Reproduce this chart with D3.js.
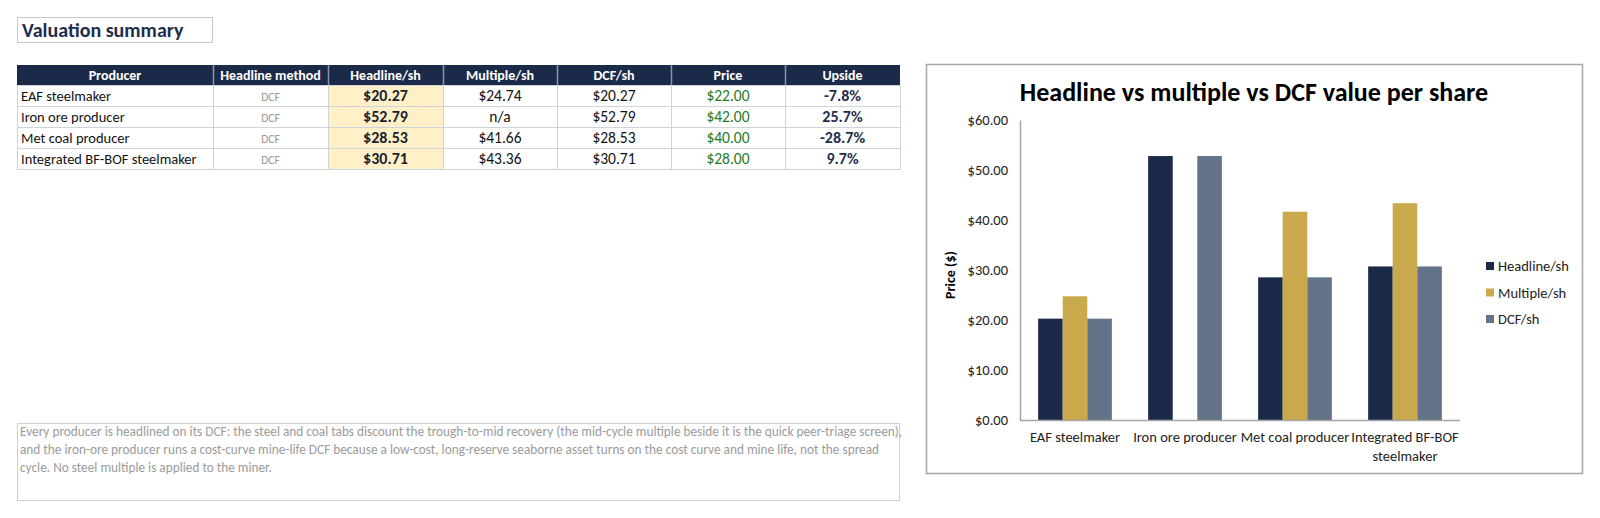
<!DOCTYPE html>
<html>
<head>
<meta charset="utf-8">
<script src="https://cdn.jsdelivr.net/npm/d3@7"></script>
<style>
  html, body { margin: 0; padding: 0; background: #fff; }
  svg { display: block; font-family: Carlito, Calibri, Lato, sans-serif; }
</style>
</head>
<body>
<svg id="sheet"></svg>
<script>
// Table / chart data
const producers = ['EAF steelmaker', 'Iron ore producer', 'Met coal producer', 'Integrated BF-BOF steelmaker'];
const methods = ['DCF', 'DCF', 'DCF', 'DCF'];
const headlineSh = [20.27, 52.79, 28.53, 30.71];
const multipleSh = [24.74, null, 41.66, 43.36];
const dcfSh = [20.27, 52.79, 28.53, 30.71];
const prices = [22.00, 42.00, 40.00, 28.00];
const upside = ['-7.8%', '25.7%', '-28.7%', '9.7%'];
const headers = ['Producer', 'Headline method', 'Headline/sh', 'Multiple/sh', 'DCF/sh', 'Price', 'Upside'];
const seriesNames = ['Headline/sh', 'Multiple/sh', 'DCF/sh'];
const yTicks = [0, 10, 20, 30, 40, 50, 60];
const noteText = 'Every producer is headlined on its DCF: the steel and coal tabs discount the trough-to-mid recovery (the mid-cycle multiple beside it is the quick peer-triage screen), and the iron-ore producer runs a cost-curve mine-life DCF because a low-cost, long-reserve seaborne asset turns on the cost curve and mine life, not the spread cycle. No steel multiple is applied to the miner.';

const navy = '#1c2a4a';
const gold = '#c9a94c';
const slate = '#637389';
const money = d => d == null ? 'n/a' : '$' + d.toFixed(2);
const fontStack = 'Carlito, Calibri, Lato, sans-serif';

const svg = d3.select('#sheet').attr('width', 1600).attr('height', 518);

// Title box
svg.append('rect').attr('x', 17.5).attr('y', 17.5).attr('width', 195).attr('height', 25)
  .attr('fill', '#fff').attr('stroke', '#c8c8c8');
svg.append('text').attr('x', 22).attr('y', 37)
  .style('font-size', '20px').style('font-weight', 'bold').attr('fill', '#1f2d4d')
  .text('Valuation summary');

// ---- Table ----
const colEdges = [17, 213, 328, 443, 557, 671, 785, 900];
const rowTop = 65, headH = 20, rowH = 21;
const table = svg.append('g');

const rows = producers.map((p, i) => [
  p, methods[i], money(headlineSh[i]), money(multipleSh[i]), money(dcfSh[i]), money(prices[i]), upside[i]
]);

// header
headers.forEach((h, c) => {
  table.append('rect')
    .attr('x', colEdges[c]).attr('y', rowTop)
    .attr('width', colEdges[c + 1] - colEdges[c]).attr('height', headH)
    .attr('fill', navy);
  table.append('text')
    .attr('x', (colEdges[c] + colEdges[c + 1]) / 2).attr('y', rowTop + headH / 2 + 5)
    .attr('text-anchor', 'middle').attr('fill', '#fff')
    .style('font-size', '14px').style('font-weight', 'bold')
    .text(h);
});
// header dividers
colEdges.slice(1, -1).forEach(x => {
  table.append('line').attr('x1', x + 0.5).attr('x2', x + 0.5)
    .attr('y1', rowTop).attr('y2', rowTop + headH)
    .attr('stroke', '#8a93a6').attr('stroke-width', 1.5);
});

// body
rows.forEach((r, i) => {
  const y0 = rowTop + headH + i * rowH;
  r.forEach((v, c) => {
    const x0 = colEdges[c], x1 = colEdges[c + 1];
    table.append('rect')
      .attr('x', x0 + 0.5).attr('y', y0 + 0.5)
      .attr('width', x1 - x0).attr('height', rowH)
      .attr('fill', c === 2 ? '#fff0c7' : '#fff')
      .attr('stroke', '#cfd3da');
    const t = table.append('text')
      .attr('y', y0 + rowH / 2 + 5.5)
      .style('font-size', c === 0 ? '14.5px' : '15.5px')
      .attr('fill', '#111')
      .text(v);
    if (c === 0) {
      t.attr('x', x0 + 4);
    } else {
      t.attr('x', (x0 + x1) / 2).attr('text-anchor', 'middle');
    }
    if (c === 1) t.style('font-size', '11.5px').attr('fill', '#9a9a9a');
    if (c === 2) t.style('font-weight', 'bold').style('font-size', '16px').attr('fill', '#1a1f2e');
    if (c === 5) t.attr('fill', '#237a23');
    if (c === 6) t.style('font-weight', 'bold').style('font-size', '16px').attr('fill', '#1f2d4d');
  });
});

// ---- Notes box ----
svg.append('rect').attr('x', 17.5).attr('y', 423.5).attr('width', 882).attr('height', 77)
  .attr('fill', '#fff').attr('stroke', '#d0d0d0');
const note = svg.append('text').attr('x', 20).attr('y', 436)
  .style('font-size', '13.3px').attr('fill', '#9b9b9b');
(function wrapNote() {
  const words = noteText.split(' ');
  let line = [];
  let tspan = note.append('tspan').attr('x', 20).attr('dy', 0);
  words.forEach(w => {
    line.push(w);
    tspan.text(line.join(' '));
    if (tspan.node().getComputedTextLength() > 888 && line.length > 1) {
      line.pop();
      tspan.text(line.join(' '));
      line = [w];
      tspan = note.append('tspan').attr('x', 20).attr('dy', 18).text(w);
    }
  });
})();

// ---- Chart ----
svg.append('rect').attr('x', 926.5).attr('y', 64.5).attr('width', 656).attr('height', 409)
  .attr('fill', '#fff').attr('stroke', '#a6a6a6').attr('stroke-width', 1.5);

svg.append('text').attr('x', 1254).attr('y', 101)
  .attr('text-anchor', 'middle')
  .style('font-size', '26px').style('font-weight', 'bold').attr('fill', '#000')
  .text('Headline vs multiple vs DCF value per share');

const plot = { left: 1020, right: 1460, top: 120, bottom: 420 };

const x0 = d3.scaleBand().domain(producers).range([plot.left, plot.right]).paddingInner(0.33).paddingOuter(0.165);
const x1 = d3.scaleBand().domain(seriesNames).range([0, x0.bandwidth()]);
const y = d3.scaleLinear().domain([0, 60]).range([plot.bottom, plot.top]);
const color = d3.scaleOrdinal().domain(seriesNames).range([navy, gold, slate]);

const seriesData = [headlineSh, multipleSh, dcfSh];

const groups = svg.append('g').selectAll('g')
  .data(producers)
  .join('g')
  .attr('transform', d => `translate(${x0(d)},0)`);

groups.selectAll('rect')
  .data((d, i) => seriesNames.map((s, k) => ({ s, v: seriesData[k][i] })).filter(e => e.v != null))
  .join('rect')
  .attr('x', d => x1(d.s))
  .attr('y', d => y(d.v))
  .attr('width', x1.bandwidth())
  .attr('height', d => y(0) - y(d.v))
  .attr('fill', d => color(d.s));

// Y axis
const yAxis = svg.append('g').attr('transform', `translate(${plot.left},0)`)
  .call(d3.axisLeft(y).tickValues(yTicks).tickSize(0).tickPadding(12).tickFormat(d => '$' + d.toFixed(2)));
yAxis.select('.domain').attr('stroke', '#a6a6a6').attr('stroke-width', 1.5);
yAxis.selectAll('text').style('font-size', '14.5px').style('font-family', fontStack).attr('fill', '#222');

// X axis
const xAxis = svg.append('g').attr('transform', `translate(0,${plot.bottom})`)
  .call(d3.axisBottom(x0).tickSize(0).tickPadding(0).tickSizeOuter(0));
xAxis.select('.domain').attr('stroke', '#a6a6a6').attr('stroke-width', 1.5)
  .attr('d', `M${plot.left},0.5H${plot.right}`);
xAxis.selectAll('text')
  .style('font-size', '14.5px').style('font-family', fontStack).attr('fill', '#222')
  .attr('y', 22).attr('dy', 0)
  .each(function (d) {
    const el = d3.select(this);
    const words = d.split(' ');
    el.text(null);
    let line = [];
    let tspan = el.append('tspan').attr('x', 0).attr('dy', 0);
    words.forEach(w => {
      line.push(w);
      tspan.text(line.join(' '));
      if (tspan.node().getComputedTextLength() > 135 && line.length > 1) {
        line.pop();
        tspan.text(line.join(' '));
        line = [w];
        tspan = el.append('tspan').attr('x', 0).attr('dy', 19).text(w);
      }
    });
  });

// Y axis title
svg.append('text')
  .attr('transform', `translate(955,${(plot.top + plot.bottom) / 2 + 5}) rotate(-90)`)
  .attr('text-anchor', 'middle')
  .style('font-size', '14px').style('font-weight', 'bold').attr('fill', '#000')
  .text('Price ($)');

// Legend
const legend = svg.append('g').selectAll('g')
  .data(seriesNames)
  .join('g')
  .attr('transform', (d, i) => `translate(1486,${266 + i * 26.5})`);
legend.append('rect').attr('x', 0).attr('y', -4).attr('width', 8).attr('height', 8)
  .attr('fill', d => color(d));
legend.append('text').attr('x', 12).attr('y', 5)
  .style('font-size', '14.5px').attr('fill', '#222')
  .text(d => d);
</script>
</body>
</html>
